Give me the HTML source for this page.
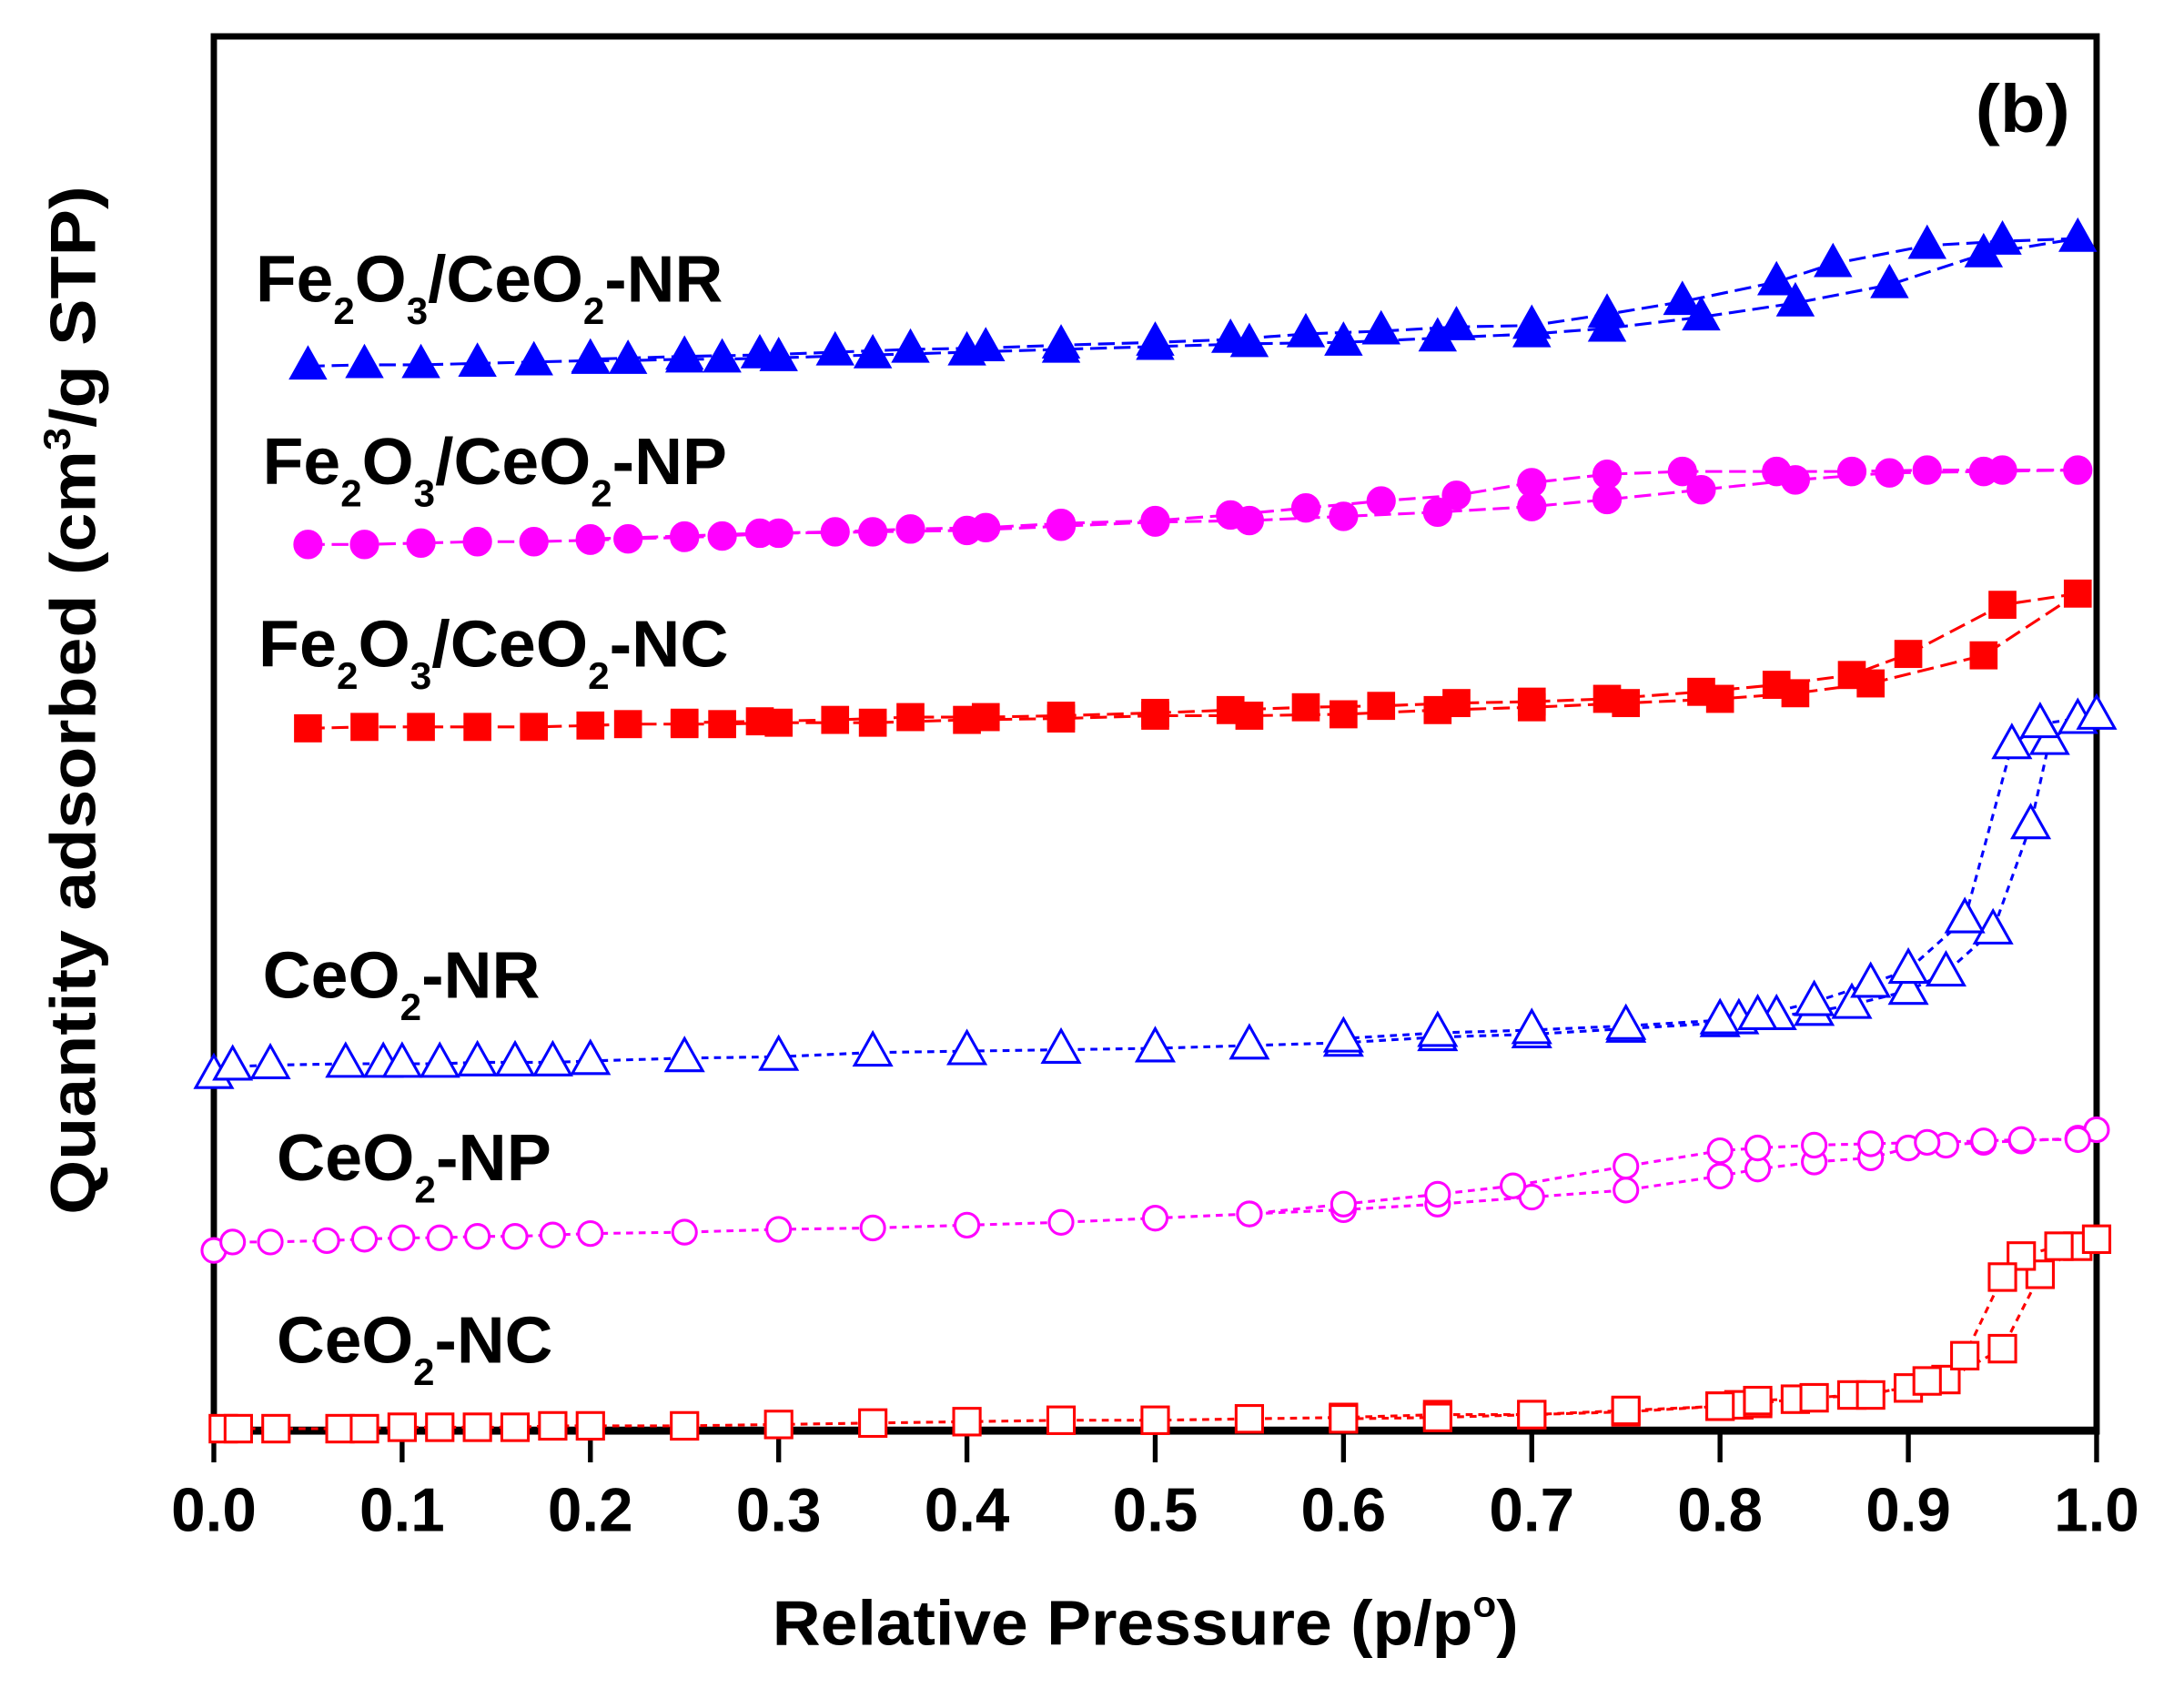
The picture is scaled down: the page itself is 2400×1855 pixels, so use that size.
<!DOCTYPE html>
<html><head><meta charset="utf-8"><style>
html,body{margin:0;padding:0;background:#fff}
svg{display:block}
text{font-family:"Liberation Sans",Arial,sans-serif;font-weight:bold;fill:#000}
</style></head><body>
<svg id="s" width="2400" height="1855" viewBox="1.67 2.07 1566 1202.7" preserveAspectRatio="none" xmlns="http://www.w3.org/2000/svg">
<rect x="155" y="28" width="1350" height="994" fill="none" stroke="#000" stroke-width="4.5"/>
<line x1="155" y1="1021" x2="1505" y2="1021" stroke="#000" stroke-width="5"/>
<g id="ticks"></g>
<g id="data"></g>
<text x="1418" y="96" font-size="48" textLength="68" lengthAdjust="spacingAndGlyphs">(b)</text>
<text x="185" y="217" font-size="47" textLength="335" lengthAdjust="spacingAndGlyphs">Fe<tspan font-size="27" dy="16">2</tspan><tspan dy="-16">O</tspan><tspan font-size="27" dy="16">3</tspan><tspan dy="-16">/CeO</tspan><tspan font-size="27" dy="16">2</tspan><tspan dy="-16">-NR</tspan></text>
<text x="190" y="347" font-size="47" textLength="333" lengthAdjust="spacingAndGlyphs">Fe<tspan font-size="27" dy="16">2</tspan><tspan dy="-16">O</tspan><tspan font-size="27" dy="16">3</tspan><tspan dy="-16">/CeO</tspan><tspan font-size="27" dy="16">2</tspan><tspan dy="-16">-NP</tspan></text>
<text x="187" y="477" font-size="47" textLength="337" lengthAdjust="spacingAndGlyphs">Fe<tspan font-size="27" dy="16">2</tspan><tspan dy="-16">O</tspan><tspan font-size="27" dy="16">3</tspan><tspan dy="-16">/CeO</tspan><tspan font-size="27" dy="16">2</tspan><tspan dy="-16">-NC</tspan></text>
<text x="190" y="713" font-size="47" textLength="199" lengthAdjust="spacingAndGlyphs">CeO<tspan font-size="27" dy="16">2</tspan><tspan dy="-16">-NR</tspan></text>
<text x="200" y="843" font-size="47" textLength="197" lengthAdjust="spacingAndGlyphs">CeO<tspan font-size="27" dy="16">2</tspan><tspan dy="-16">-NP</tspan></text>
<text x="200" y="973" font-size="47" textLength="198" lengthAdjust="spacingAndGlyphs">CeO<tspan font-size="27" dy="16">2</tspan><tspan dy="-16">-NC</tspan></text>
<text x="823" y="1174" font-size="45" text-anchor="middle" textLength="535" lengthAdjust="spacingAndGlyphs">Relative Pressure (p/p<tspan font-size="26" dy="-20">o</tspan><tspan dy="20">)</tspan></text>
<text transform="translate(70,501) rotate(-90)" font-size="46" text-anchor="middle" textLength="733" lengthAdjust="spacingAndGlyphs">Quantity adsorbed (cm<tspan font-size="27" dy="-18">3</tspan><tspan dy="18">/g STP)</tspan></text>
</svg>
<script>
var NS="http://www.w3.org/2000/svg";
function el(t,a,p){var e=document.createElementNS(NS,t);for(var k in a)e.setAttribute(k,a[k]);p.appendChild(e);return e;}
var tk=document.getElementById("ticks");
for(var i=0;i<=10;i++){var x=155+i*135;el("line",{x1:x,y1:1022,x2:x,y2:1044,stroke:"#000","stroke-width":3.5},tk);
var t=el("text",{x:x,y:1093,"font-size":44,"text-anchor":"middle"},tk);t.textContent=(i/10).toFixed(1);}
function X(p){return 155+p*1350;}
var S=[
{c:"#0000ff",m:"tri",f:1,d:"12,5",a:[[.05,263],[.08,262],[.11,262],[.14,261],[.17,260],[.2,259],[.22,259],[.25,258],[.27,258],[.3,257],[.35,255],[.4,253],[.45,251],[.5,249],[.55,247],[.6,246],[.65,243],[.7,240],[.74,236],[.79,228],[.84,218],[.89,205],[.94,183],[.99,172]],
 b:[[.99,172],[.95,174],[.91,177],[.86,190],[.83,203],[.78,217],[.74,226],[.7,234],[.66,235],[.62,238],[.58,240],[.54,244],[.5,246],[.45,248],[.41,250],[.37,251],[.33,253],[.29,255],[.25,256],[.2,258]]},
{c:"#ff00ff",m:"cir",f:1,d:"12,5",a:[[.05,390],[.08,390],[.11,389],[.14,388],[.17,388],[.2,387],[.22,386],[.25,385],[.27,384],[.3,382],[.35,381],[.4,380],[.45,377],[.5,374],[.55,373],[.6,370],[.65,367],[.7,363],[.74,358],[.79,351],[.84,344],[.89,339],[.94,338],[.99,337]],
 b:[[.99,337],[.95,337],[.91,337],[.87,338],[.83,338],[.78,338],[.74,340],[.7,346],[.66,355],[.62,359],[.58,364],[.54,369],[.5,373],[.45,375],[.41,378],[.37,379],[.33,381],[.29,382],[.25,384],[.2,386]]},
{c:"#ff0000",m:"sq",f:1,d:"12,5",a:[[.05,521],[.08,520],[.11,520],[.14,520],[.17,520],[.2,519],[.22,518],[.25,518],[.27,518],[.3,517],[.35,517],[.4,515],[.45,514],[.5,512],[.55,512],[.6,511],[.65,508],[.7,506],[.75,503],[.8,500],[.84,496],[.88,489],[.94,469],[.99,425]],
 b:[[.99,425],[.95,433],[.9,468],[.87,483],[.83,490],[.79,495],[.74,500],[.7,502],[.66,503],[.62,505],[.58,506],[.54,508],[.5,510],[.45,512],[.41,513],[.37,513],[.33,515],[.29,516],[.25,517]]},
{c:"#0000ff",m:"tri",f:0,d:"5,4",a:[[0,768],[.01,762],[.03,761],[.07,760],[.09,760],[.1,760],[.12,760],[.14,759],[.16,759],[.18,759],[.2,758],[.25,756],[.3,755],[.35,752],[.4,751],[.45,750],[.5,749],[.55,747],[.6,745],[.65,741],[.7,739],[.75,735],[.8,731],[.81,729],[.83,726],[.85,723],[.87,718],[.9,708],[.92,695],[.945,665],[.965,590],[.975,530],[.99,515],[1,512]],
 b:[[1,512],[.97,518],[.955,533],[.93,657],[.9,693],[.88,703],[.85,716],[.82,726],[.8,729],[.75,733],[.7,736],[.65,738],[.6,742]]},
{c:"#ff00ff",m:"cir",f:0,d:"5,4",a:[[0,893],[.01,887],[.03,887],[.06,886],[.08,885],[.1,884],[.12,884],[.14,883],[.16,883],[.18,882],[.2,881],[.25,880],[.3,878],[.35,877],[.4,875],[.45,873],[.5,870],[.55,867],[.6,864],[.65,860],[.7,855],[.75,850],[.8,840],[.82,835],[.85,830],[.88,827],[.9,820],[.92,818],[.94,816],[.96,815],[.99,813],[1,807]],
 b:[[1,807],[.99,814],[.96,814],[.94,815],[.91,816],[.88,817],[.85,818],[.82,820],[.8,822],[.75,833],[.69,847],[.65,853],[.6,860],[.55,867]]},
{c:"#ff0000",m:"sq",f:0,d:"5,4",a:[[.005,1020],[.013,1020],[.033,1020],[.067,1020],[.08,1020],[.1,1019],[.12,1019],[.14,1019],[.16,1019],[.18,1018],[.2,1018],[.25,1018],[.3,1017],[.35,1016],[.4,1015],[.45,1014],[.5,1014],[.55,1013],[.6,1012],[.65,1010],[.7,1010],[.75,1008],[.8,1004],[.81,1003],[.82,1002],[.84,999],[.85,998],[.87,996],[.9,991],[.92,985],[.95,963],[.97,910],[.99,890],[1,885]],
 b:[[1,885],[.98,890],[.96,897],[.95,912],[.93,968],[.91,986],[.88,996],[.82,1000],[.8,1004],[.75,1007],[.7,1010],[.65,1012],[.6,1013]]}
];
var g=document.getElementById("data");
S.forEach(function(s){
 [s.a,s.b].forEach(function(br){
  el("polyline",{points:br.map(function(p){return X(p[0])+","+p[1]}).join(" "),fill:"none",stroke:s.c,"stroke-width":2,"stroke-dasharray":s.d},g);
 });
 s.a.concat(s.b.slice(1)).forEach(function(p){
  var x=X(p[0]),y=p[1],fill=s.f?s.c:"#fff",sw=s.f?1:2;
  if(s.m=="tri")el("polygon",{points:(x)+","+(y-14)+" "+(x-13)+","+(y+9)+" "+(x+13)+","+(y+9),fill:fill,stroke:s.c,"stroke-width":sw},g);
  else if(s.m=="cir")el("circle",{cx:x,cy:y,r:s.f?10:8.5,fill:fill,stroke:s.c,"stroke-width":sw},g);
  else el("rect",{x:x-9.5,y:y-9.5,width:19,height:19,fill:fill,stroke:s.c,"stroke-width":sw},g);
 });
});
</script>
</body></html>
